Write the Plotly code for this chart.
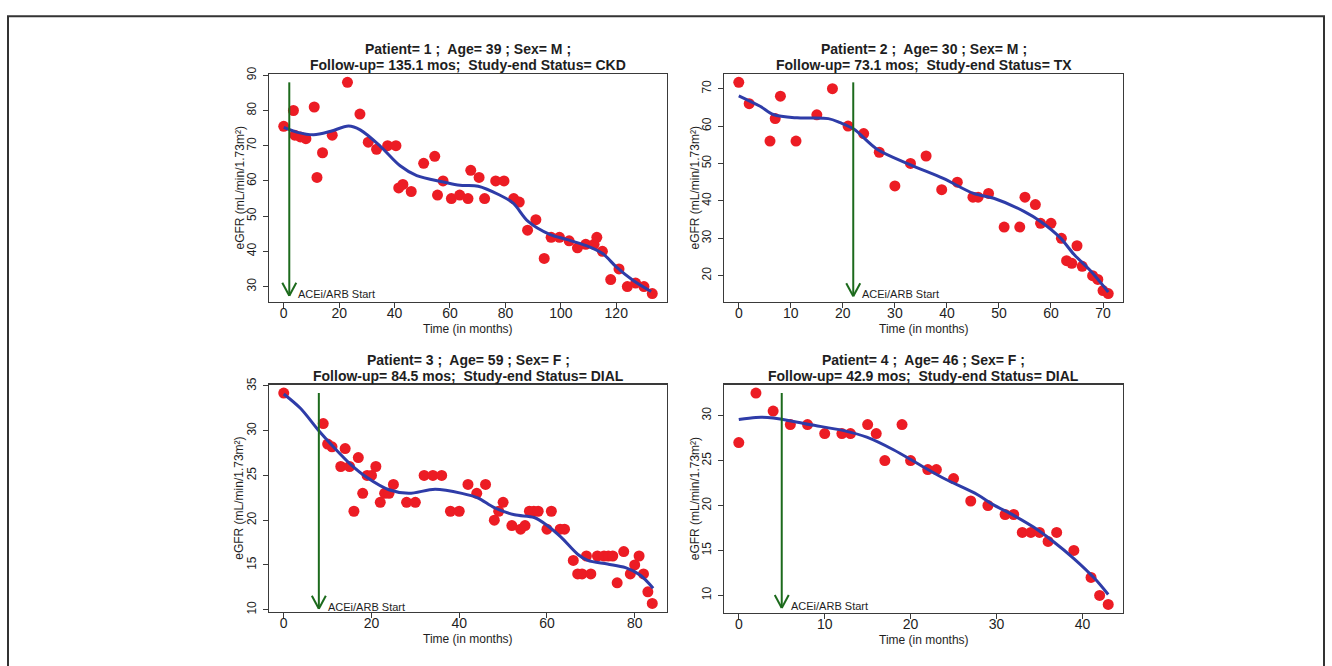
import plotly.graph_objects as go

W, H = 1332, 666

# ---------------- data ----------------
patient_ids = [1, 2, 3, 4]
ages = [39, 30, 59, 46]
sexes = ["M", "M", "F", "F"]
followups = [135.1, 73.1, 84.5, 42.9]
statuses = ["CKD", "TX", "DIAL", "DIAL"]
acei_start = [2, 22, 8, 5]
arrow_bottom = [27.4, 14.5, 10.1, 8.6]
x_dtick = [20, 10, 20, 10]
y_dtick = [10, 10, 5, 5]

p1_time = [0, 3.5, 4, 6, 8, 11, 12, 14, 17.5, 23, 27.5, 30.5, 33.5, 37.5, 40.5, 41.5, 43, 46,
           50.5, 54.5, 55.5, 57.5, 60.5, 63.5, 66.5, 67.5, 70.5, 72.5, 76.5, 79.5, 83, 85, 88,
           91, 94, 96.5, 99.5, 103, 106, 109, 112, 113, 115, 118, 121, 124, 127, 130, 133]
p1_egfr = [75.5, 80, 73, 72.5, 72, 81, 61, 68, 73, 88, 79, 71, 69, 70, 70, 58, 59, 57,
           65, 67, 56, 60, 55, 56, 55, 63, 61, 55, 60, 60, 55, 54, 46,
           49, 38, 44, 44, 43, 41, 42, 42, 44, 40, 32, 35, 30, 31, 30, 28]
p1_fit_time = [0, 5, 10.8, 17, 23.4, 27.6, 34.8, 42, 48, 57.6, 63.6, 70.2, 77.9, 82.8, 88.2,
               96, 102, 109.2, 115.2, 120, 126, 132.6]
p1_fit_egfr = [75.2, 73.8, 73.1, 74.1, 75.6, 74.5, 69.9, 64.3, 61.5, 59.7, 58.75, 58.5, 56,
               53.7, 48.5, 44.8, 43.4, 41.6, 39.3, 35.6, 31.8, 28.6]

p2_time = [0, 2, 6, 7, 8, 11, 15, 18, 21, 24, 27, 30, 33, 36, 39, 42, 45, 46, 48, 51, 54, 55,
           57, 58, 60, 62, 63, 64, 65, 66, 68, 69, 70, 71]
p2_egfr = [71.7, 66, 56, 62, 68, 56, 63, 70, 60, 58, 53, 44, 50, 52, 43, 45, 41, 41, 42, 33, 33,
           41, 39, 34, 34, 30, 24, 23.3, 28, 22.5, 20, 19, 16, 15.2]
p2_fit_time = [0, 4.1, 6.65, 11.2, 17.2, 19.5, 22.1, 26.5, 32.9, 39.3, 45.1, 49, 54.8, 58,
               61.8, 64.4, 67.6, 71]
p2_fit_egfr = [68.1, 65.3, 63.1, 62.2, 62, 60.9, 59.2, 53.9, 49.7, 46, 42, 40.7, 37.2, 34.5,
               30.1, 25.7, 21.3, 15.6]

p3_time = [0, 9, 10, 11, 13, 14, 15, 16, 17, 18, 19, 20, 21, 22, 23, 24, 25, 28, 30, 32, 34,
           36, 38, 40, 42, 44, 46, 48, 49, 50, 52, 54, 55, 56, 57, 58, 60, 61, 63, 64, 66, 67,
           68, 69, 70, 71.5, 73, 74, 75, 76, 77.5, 79, 80, 81, 82, 83, 84]
p3_egfr = [34.2, 30.8, 28.5, 28.2, 26, 28, 26, 21, 27, 23, 25, 25, 26, 22, 23, 23, 24, 22, 22,
           25, 25, 25, 21, 21, 24, 23, 24, 20, 21, 22, 19.4, 19, 19.4, 21, 21, 21, 19, 21, 19,
           19, 15.5, 14, 14, 16, 14, 16, 16, 16, 16, 13, 16.5, 14, 15, 16, 14, 12, 10.7]
p3_fit_time = [0, 3.8, 7.9, 11.3, 15.1, 18.9, 24, 28.5, 34.5, 40.6, 44.2, 48, 52.6, 57.1,
               60.2, 63.2, 67, 69.3, 73.8, 77.9, 81.3, 84.2]
p3_fit_egfr = [34.1, 32.5, 30.05, 28.2, 26.3, 24.8, 23.4, 23, 23.45, 23, 22.5, 21.4, 20.6,
               20.3, 19.35, 18.1, 16.2, 15.5, 15.1, 14.7, 13.85, 12.4]

p4_time = [0, 2, 4, 6, 8, 10, 12, 13, 15, 16, 17, 19, 20, 22, 23, 25, 27, 29, 31, 32, 33, 34,
           35, 36, 37, 39, 41, 42, 43]
p4_egfr = [27, 32.5, 30.5, 29, 29, 28, 28, 28, 29, 28, 25, 29, 25, 24, 24, 23, 20.5, 20, 19,
           19, 17, 17, 17, 16, 17, 15, 12, 10, 9]
p4_fit_time = [0, 2, 4, 8.2, 12.1, 14.9, 18, 21.1, 23.9, 27.8, 29.6, 32, 34.3, 36.6, 39,
               41.4, 43]
p4_fit_egfr = [29.56, 29.8, 29.74, 29, 28.36, 27.6, 26.2, 24.5, 23.0, 21.2, 20.1, 18.9, 17.6,
               16, 14.1, 11.9, 10.1]

times = [p1_time, p2_time, p3_time, p4_time]
egfrs = [p1_egfr, p2_egfr, p3_egfr, p4_egfr]
fit_times = [p1_fit_time, p2_fit_time, p3_fit_time, p4_fit_time]
fit_egfrs = [p1_fit_egfr, p2_fit_egfr, p3_fit_egfr, p4_fit_egfr]

# ---------------- layout geometry (pixels) ----------------
boxes = [(269, 67, 667, 299), (724, 67, 1123, 299),
         (269, 383, 667, 614), (724, 383, 1123, 615)]

RED = "#ec1c24"
BLUE = "#2e3ca8"
GREEN = "#1c6a1c"
TXT = "#1e1e1e"
LINE = "#3a3a3a"
FONT = "Liberation Sans, Arial, sans-serif"


def px(x):
    return x / W


def py(y):
    return 1 - y / H


def rng(v):
    lo, hi = min(v), max(v)
    d = (hi - lo) * 0.04
    return [lo - d, hi + d]


fig = go.Figure()
layout = dict(width=W, height=H, margin=dict(l=0, r=0, t=0, b=0),
              paper_bgcolor="white", plot_bgcolor="white", showlegend=False,
              font=dict(family=FONT, color=TXT))
annotations = []
shapes = []

for i in range(4):
    k = "" if i == 0 else str(i + 1)
    xa, ya = "x" + k, "y" + k
    x0, y0, x1, y1 = boxes[i]
    fig.add_trace(go.Scatter(x=times[i], y=egfrs[i], mode="markers", xaxis=xa, yaxis=ya,
                             marker=dict(color=RED, size=11, line=dict(width=0)),
                             hoverinfo="skip"))
    fig.add_trace(go.Scatter(x=fit_times[i], y=fit_egfrs[i], mode="lines", xaxis=xa, yaxis=ya,
                             line=dict(color=BLUE, width=3, shape="spline", smoothing=0.9),
                             hoverinfo="skip"))
    common = dict(showline=True, mirror=True, linecolor=LINE, linewidth=1.3, ticks="outside",
                  ticklen=5, tickwidth=1, tickcolor=LINE, showgrid=False, zeroline=False)
    layout["xaxis" + k] = dict(common, domain=[px(x0), px(x1)], range=rng(times[i]),
                               dtick=x_dtick[i], tick0=0, anchor=ya, ticklabelstandoff=-7,
                               tickfont=dict(size=14, color=TXT, family=FONT))
    layout["yaxis" + k] = dict(common, domain=[py(y1), py(y0)], range=rng(egfrs[i]),
                               dtick=y_dtick[i], tick0=0, anchor=xa, tickangle=-90,
                               ticklabelstandoff=2,
                               tickfont=dict(size=12, color=TXT, family=FONT))

    # ACEi/ARB start arrow
    top = max(egfrs[i])
    bot = arrow_bottom[i]
    shapes.append(dict(type="line", xref=xa, yref=ya, x0=acei_start[i], x1=acei_start[i],
                       y0=top, y1=bot, line=dict(color=GREEN, width=2), layer="above"))
    for s in (-1, 1):
        shapes.append(dict(type="line", xref=xa, yref=ya, xsizemode="pixel", ysizemode="pixel",
                           xanchor=acei_start[i], yanchor=bot, x0=0, y0=0, x1=7 * s, y1=13,
                           line=dict(color=GREEN, width=2), layer="above"))
    annotations.append(dict(x=acei_start[i], y=bot, xref=xa, yref=ya, text="ACEi/ARB Start",
                            showarrow=False, xanchor="left", yanchor="middle", xshift=7,
                            yshift=2, font=dict(size=11, color=TXT, family=FONT)))

    # titles
    cx = (x0 + x1) / 2
    line1 = f"Patient= {patient_ids[i]} ;  Age= {ages[i]} ; Sex= {sexes[i]} ;"
    line2 = f"Follow-up= {followups[i]} mos;  Study-end Status= {statuses[i]}"
    ty = y0 - 25.3
    annotations.append(dict(x=px(cx), y=py(ty), xref="paper", yref="paper", text=line1,
                            showarrow=False, xanchor="center", yanchor="middle",
                            font=dict(size=14, color=TXT, family=FONT, weight="bold")))
    annotations.append(dict(x=px(cx), y=py(ty + 16.6), xref="paper", yref="paper",
                            text=line2, showarrow=False, xanchor="center",
                            yanchor="middle",
                            font=dict(size=14, color=TXT, family=FONT, weight="bold")))
    # axis titles
    annotations.append(dict(x=px(cx), y=py(y1 + 27.5), xref="paper", yref="paper",
                            text="Time (in months)", showarrow=False, xanchor="center",
                            yanchor="middle", font=dict(size=12, color=TXT, family=FONT)))
    annotations.append(dict(x=px(x0 - 29.5), y=py((y0 + y1) / 2), xref="paper", yref="paper",
                            text="eGFR (mL/min/1.73m\u00b2)", showarrow=False, textangle=-90,
                            xanchor="center", yanchor="middle",
                            font=dict(size=12, color=TXT, family=FONT)))

# outer frame
shapes.append(dict(type="rect", xref="paper", yref="paper", x0=px(8), x1=px(1324), y0=-0.02,
                   y1=py(8.5), line=dict(color="#333333", width=2), layer="above"))

layout["annotations"] = annotations
layout["shapes"] = shapes
fig.update_layout(**layout)
fig.write_html(
    "out.html",
    config={"displayModeBar": False, "staticPlot": True},
    post_script=("document.body.style.margin='0';document.body.style.overflow='hidden';"
                 "var gd=document.getElementById('{plot_id}');gd.style.position='absolute';"
                 "gd.style.left='0px';gd.style.top='0px';"),
)
